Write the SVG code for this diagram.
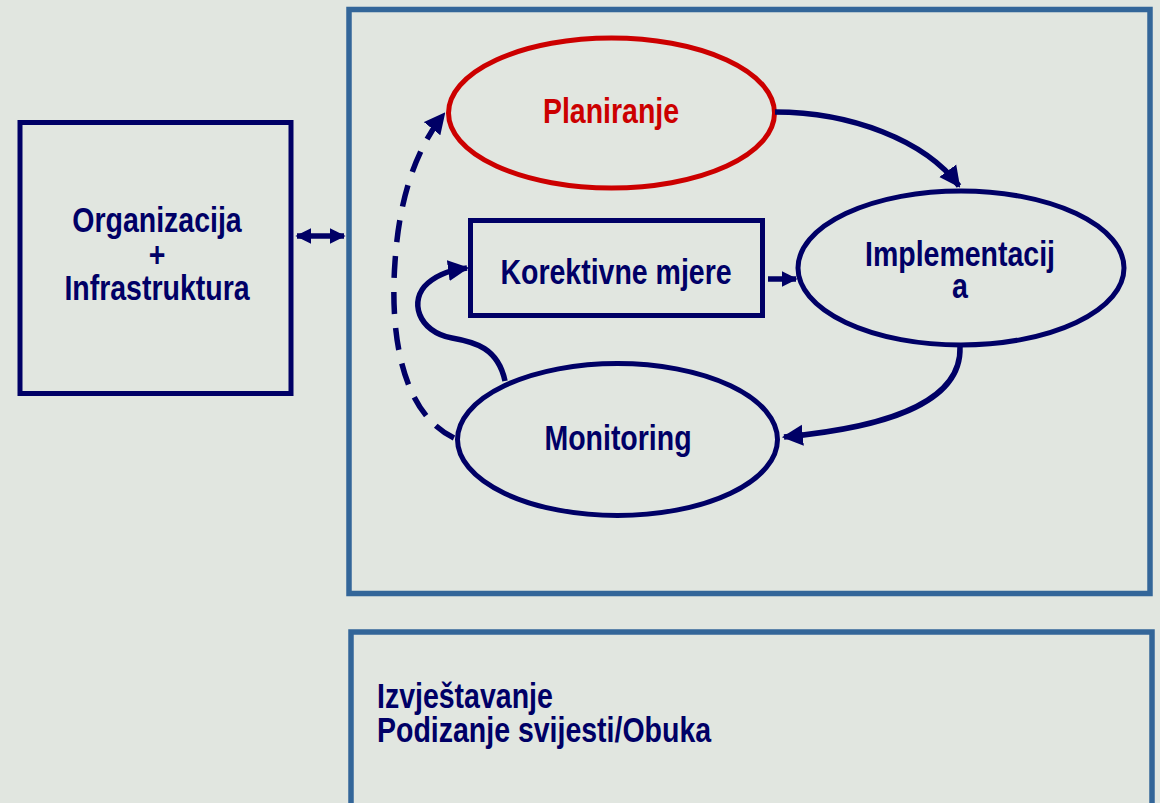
<svg xmlns="http://www.w3.org/2000/svg" width="1160" height="803" viewBox="0 0 1160 803">
<defs>
<style>
.t{font-family:"Liberation Sans",Arial,sans-serif;font-weight:bold;font-size:28.5px;fill:#000066}
.m{text-anchor:middle}
.frame{fill:none;stroke:#336699;stroke-width:5.5}
.nav{fill:none;stroke:#000066;stroke-width:5}
.con{fill:none;stroke:#000066;stroke-width:5.5}
</style>
<marker id="ah" viewBox="0 0 10 10" refX="9" refY="5" markerUnits="userSpaceOnUse" markerWidth="21" markerHeight="22" orient="auto-start-reverse">
<path d="M0,0 L10,5 L0,10 z" fill="#000066"/>
</marker>
<marker id="ahd" viewBox="0 0 10 10" refX="9" refY="5" markerUnits="userSpaceOnUse" markerWidth="16" markerHeight="20" orient="auto-start-reverse">
<path d="M0,0 L10,5 L0,10 z" fill="#000066"/>
</marker>
<marker id="ahs" viewBox="0 0 10 10" refX="9" refY="5" markerUnits="userSpaceOnUse" markerWidth="16" markerHeight="17" orient="auto-start-reverse">
<path d="M0,0 L10,5 L0,10 z" fill="#000066"/>
</marker>
</defs>
<rect x="0" y="0" width="1160" height="803" fill="#e1e6e0"/>
<g id="frame-main"><rect class="frame" x="349" y="9.5" width="801" height="584"/></g>
<g id="frame-bottom"><rect class="frame" x="351" y="632" width="801" height="200"/>
<text class="t" transform="matrix(1,0,0,1.25,377,708)">Izvještavanje</text>
<text class="t" transform="matrix(1,0,0,1.25,377,742)">Podizanje svijesti/Obuka</text></g>
<g id="org"><rect class="nav" x="20" y="122.5" width="271" height="271"/>
<text class="t m" transform="matrix(1,0,0,1.25,157,232)">Organizacija</text>
<text class="t m" transform="matrix(1,0,0,1.25,157,267)">+</text>
<text class="t m" transform="matrix(1,0,0,1.25,157,300)">Infrastruktura</text></g>
<g id="planiranje"><ellipse cx="611.5" cy="113" rx="163" ry="75" fill="none" stroke="#cc0000" stroke-width="5"/>
<text class="t m" transform="matrix(1,0,0,1.25,611,123)" style="fill:#cc0000">Planiranje</text></g>
<g id="implementacija"><ellipse class="nav" cx="961" cy="268" rx="163" ry="77"/>
<text class="t m" transform="matrix(1,0,0,1.25,960,266)">Implementacij</text>
<text class="t m" transform="matrix(1,0,0,1.25,960,298)">a</text></g>
<g id="korektivne"><rect class="nav" x="470.5" y="220.5" width="292" height="95"/>
<text class="t m" transform="matrix(1,0,0,1.25,616,284)">Korektivne mjere</text></g>
<g id="monitoring"><ellipse class="nav" cx="617.5" cy="439.5" rx="160" ry="76"/>
<text class="t m" transform="matrix(1,0,0,1.25,618,450)">Monitoring</text></g>
<g id="connectors">
<path class="con" d="M297,236 L344,236" marker-start="url(#ahd)" marker-end="url(#ahd)"/>
<path class="con" d="M775,112 C850,112 925,140 959,186" marker-end="url(#ah)"/>
<path class="con" d="M768,279 L796,279" marker-end="url(#ahs)"/>
<path class="con" d="M960,347 C962,405 880,428 784,437" marker-end="url(#ah)"/>
<path class="con" d="M505,381 C498,348 475,342 452,338 C418,332 408,300 428,283 C440,273 452,270 467,268" marker-end="url(#ah)"/>
<path class="con" d="M454,438 C400,412 390,330 395,262 C399,200 415,150 444,114" stroke-dasharray="22 14" marker-end="url(#ah)"/>
</g>
</svg>
